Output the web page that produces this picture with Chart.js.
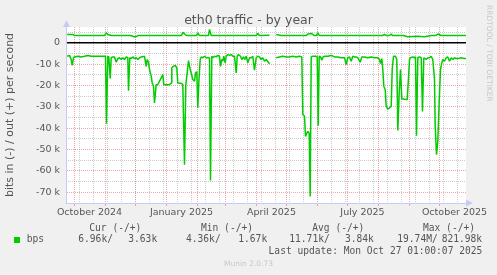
<!DOCTYPE html>
<html>
<head>
<meta charset="utf-8">
<script src="https://cdn.jsdelivr.net/npm/chart.js@4.4.1/dist/chart.umd.min.js"></script>
<style>
  html, body { margin: 0; padding: 0; background: #f0f0f0; }
  #wrap { position: relative; width: 497px; height: 275px; overflow: hidden; }
  canvas { position: absolute; left: 0; top: 0; }
  .t { position: absolute; font-family: "DejaVu Sans Mono", monospace; font-size: 9.6px; line-height: 12px; color: #555; white-space: pre; }
  .r1 { top: 222px; }
  .r2 { top: 233px; }
  .r3 { top: 244.5px; }
  #swatch { position: absolute; left: 14px; top: 236.5px; width: 6px; height: 6px; background: #00cc00; }
  #munin { position: absolute; top: 259px; left: 0; width: 497px; text-align: center; font-family: "DejaVu Sans", sans-serif; font-size: 7.5px; line-height: 10px; color: #c8c8c8; }
  #rrd { position: absolute; left: 484.5px; top: 5px; writing-mode: vertical-rl; font-family: "DejaVu Sans", sans-serif; font-size: 7.5px; line-height: 8px; color: #c8c8c8; white-space: pre; }
</style>
</head>
<body>
<div id="wrap">
  <canvas id="traffic" width="497" height="275"></canvas>
  <div id="rrd">RRDTOOL / TOBI OETIKER</div>
  <div class="t r1" style="left:89.3px">Cur (-/+)</div>
  <div class="t r1" style="left:201px">Min (-/+)</div>
  <div class="t r1" style="left:312.3px">Avg (-/+)</div>
  <div class="t r1" style="left:423px">Max (-/+)</div>
  <div id="swatch"></div>
  <div class="t r2" style="left:26.7px">bps</div>
  <div class="t r2" style="left:78.3px">6.96k/</div>
  <div class="t r2" style="left:128.3px">3.63k</div>
  <div class="t r2" style="left:186px">4.36k/</div>
  <div class="t r2" style="left:238.3px">1.67k</div>
  <div class="t r2" style="left:289.3px">11.71k/</div>
  <div class="t r2" style="left:345px">3.84k</div>
  <div class="t r2" style="left:397.3px">19.74M/</div>
  <div class="t r2" style="left:441.7px">821.98k</div>
  <div class="t r3" style="right:14.7px">Last update: Mon Oct 27 01:00:07 2025</div>
  <div id="munin">Munin 2.0.73</div>
</div>
<script>
// days counted from Sep 22 2024 (left edge of the 400 day window)
const monthStarts = [9, 40, 70, 101, 132, 160, 191, 221, 252, 282, 313, 344, 374];
const fortnights = [14, 28, 42, 56, 70, 84, 98, 112, 126, 140, 154, 168, 182, 196,
  210, 224, 238, 252, 266, 280, 294, 308, 322, 336, 350, 364, 378, 392];
const labelDays = [24, 116, 206, 297, 389];
const labelText = ["October 2024", "January 2025", "April 2025", "July 2025", "October 2025"];
const yMajor = [0, -10000, -20000, -30000, -40000, -50000, -60000, -70000];
const yMinor = [5000, -5000, -15000, -25000, -35000, -45000, -55000, -65000];

// [day, kbit/s] received (drawn below zero)
const inSamples = [
  [1.7, 6.3], [4, 5.9], [5.7, 7.8], [6.7, 10.6], [8, 7.0], [9, 6.6], [12.3, 6.3], [15.7, 6.6],
  [19, 6.3], [22.3, 5.9], [25.7, 6.3], [32.3, 6.3], [39, 6.3], [40, 6.3], [41, 37.9], [42.3, 6.3],
  [43.3, 6.6], [44.7, 16.7], [45.7, 7.0], [47.3, 6.6], [49, 6.6], [50.7, 9.1], [52.3, 7.4], [54, 7.0],
  [55.7, 7.8], [57.3, 7.0], [59, 7.8], [60.7, 6.6], [62.3, 7.0], [63, 22.4], [64.3, 7.0], [65.7, 7.4],
  [67.3, 6.6], [69, 7.4], [70.7, 7.0], [72.3, 7.8], [74, 7.0], [75.7, 6.6], [79, 6.3], [80.7, 11.0],
  [81.7, 7.8], [83, 9.1], [84, 12.5], [85.7, 15.6], [86.7, 18.8], [88, 20.3], [89, 28.2], [90.7, 19.6],
  [92.3, 19.6], [94, 18.0], [95.7, 16.4], [97.3, 14.9], [98.3, 19.6], [100.7, 19.6], [104, 19.6],
  [105.7, 18.8], [106.3, 11.7], [108, 11.0], [109.7, 10.6], [111.3, 11.7], [112.3, 18.8], [116.3, 19.1],
  [117.3, 19.6], [119, 57.1], [120.3, 19.6], [121.7, 14.1], [123, 8.3], [124.7, 12.5], [125.7, 14.1],
  [127.3, 17.2], [129, 18.0], [130, 14.1], [131.3, 13.6], [132.3, 30.5], [133.3, 18.8], [134.7, 7.8],
  [135.7, 6.6], [137.3, 7.0], [139, 6.3], [140.7, 7.0], [142.3, 7.0], [144, 7.0], [145, 64.5],
  [146.3, 6.3], [147.3, 7.0], [149, 6.3], [150.7, 6.6], [152.3, 5.9], [154, 6.3], [155, 11.0],
  [156.3, 7.8], [157.3, 8.6], [158.3, 6.3], [159.7, 9.4], [160.7, 6.3], [162.3, 5.5], [164, 5.9],
  [165.7, 5.5], [167.3, 6.3], [169, 6.3], [170.7, 14.1], [171.7, 6.3], [173, 5.5], [175, 6.3],
  [176.3, 7.8], [178, 6.6], [179.3, 7.8], [180.7, 6.3], [182.3, 9.4], [184, 7.0], [185.7, 7.0],
  [187.3, 6.3], [189, 12.8], [190.7, 7.0], [192.3, 6.3], [194, 6.6], [195.7, 7.8], [197.3, 7.0],
  [199, 8.6], [200.7, 7.8], [204, 9.8], [207, null],
  [210.7, 7.0], [214, 6.6], [217.3, 6.3], [220.7, 6.6], [224, 6.6], [227.3, 6.3], [230.7, 6.6],
  [234, 6.3], [236.3, 6.6], [237.3, 33.6], [239, 34.4], [240, 43.8], [241.3, 42.3], [242.3, 41.5],
  [243.7, 42.3], [244.7, 72.0], [245.7, 6.6], [247.3, 6.3], [250.7, 6.3], [251.7, 6.6], [252.7, 38.8],
  [253.7, 6.3], [255, 6.6], [256.3, 8.1], [257.7, 6.6], [259, 6.3], [262.3, 6.3], [265.7, 5.9],
  [269, 6.6], [272.3, 6.6], [275.7, 7.0], [279, 7.0], [280.7, 10.2], [282.3, 7.0], [284, 6.6],
  [285.7, 8.6], [287.3, 6.3], [289, 6.6], [290.7, 6.6], [292.3, 7.0], [294.7, 9.1], [296.3, 6.6],
  [299, 6.6], [302.3, 7.0], [305.7, 6.6], [309, 7.0], [312.3, 7.0], [314, 7.8], [315, 9.7],
  [316.3, 7.4], [317.3, 12.5], [318.3, 20.3], [319.7, 21.9], [320.7, 29.7], [322.3, 31.0], [324, 30.5],
  [325.7, 29.7], [326.7, 12.5], [328, 6.3], [330, 6.3], [331.3, 7.8], [332.3, 41.0], [333.7, 23.5],
  [335, 12.5], [336.3, 26.3], [338.3, 26.3], [340.7, 26.6], [341.7, 26.6], [343, 16.4], [344, 7.8],
  [345, 7.0], [347.3, 6.6], [349, 7.0], [350, 6.6], [351, 43.5], [352.3, 7.0], [354, 6.6],
  [355.7, 7.0], [357, 32.2], [358.3, 7.0], [360.7, 7.8], [362.3, 7.0], [364, 7.0], [365.7, 6.3],
  [367.3, 7.8], [369, 17.2], [369.7, 39.1], [371, 52.4], [372.3, 46.2], [373.7, 27.4], [375, 12.5],
  [376.3, 9.4], [377.3, 7.8], [379, 8.6], [380.7, 7.0], [382.3, 6.6], [384, 8.6], [385.7, 7.0],
  [387.3, 7.8], [389, 7.0], [390.7, 7.4], [392.3, 7.4], [395.7, 7.0], [399, 7.4], [400.7, 7.4]
];

// [day, kbit/s] sent (drawn above zero)
const outSamples = [
  [1.7, 3.9], [7.3, 3.9], [9, 3.4], [39, 3.4], [40.7, 4.7], [42.3, 3.9], [45.7, 3.4], [65, 3.4],
  [67.3, 3.1], [69.7, 2.7], [72.3, 3.4], [116, 3.4], [117.3, 4.9], [119.7, 3.9], [121, 3.4],
  [131, 3.4], [132.3, 4.7], [134, 3.4], [143, 3.4], [144, 6.3], [145.7, 3.4], [191, 3.4],
  [192.3, 4.4], [194, 3.4], [204, 3.5], [207, null],
  [210.7, 3.9], [215.7, 3.4], [241, 3.4], [242.3, 4.1], [245.7, 4.4], [249, 3.4], [251, 3.4],
  [252.3, 4.7], [254, 3.4], [317, 3.4], [319, 3.9], [321, 3.4], [324, 3.4], [325.7, 4.1],
  [327, 3.4], [338, 3.4], [342.3, 2.8], [352.3, 3.1], [359, 2.8], [365.7, 3.4], [370, 3.4],
  [372.3, 4.1], [375.7, 3.4], [400.7, 3.4]
];

const dayMin = 0.5;
const dayMax = 400.5;

Chart.defaults.font.family = "DejaVu Sans";
Chart.defaults.color = "#555";

const inData = inSamples.map(s => ({ x: s[0], y: s[1] === null ? null : -s[1] * 1000 }));
const outData = outSamples.map(s => ({ x: s[0], y: s[1] === null ? null : s[1] * 1000 }));

const redGrid = "rgba(225, 110, 110, 0.6)";
const grayGrid = "rgba(150, 150, 150, 0.5)";
const axisBlue = "#c6caf6";

const plotDecor = {
  id: "plotDecor",
  beforeDraw(chart) {
    const { ctx, chartArea: a } = chart;
    ctx.save();
    ctx.fillStyle = "#ffffff";
    ctx.fillRect(a.left, a.top, a.right - a.left, a.bottom - a.top);
    ctx.restore();
  },
  afterDraw(chart) {
    const { ctx, chartArea: a } = chart;
    ctx.save();
    ctx.fillStyle = axisBlue;
    ctx.beginPath();
    ctx.moveTo(a.left - 3, a.top);
    ctx.lineTo(a.left + 4, a.top);
    ctx.lineTo(a.left + 0.5, a.top - 7);
    ctx.fill();
    ctx.beginPath();
    ctx.moveTo(a.right, a.bottom - 3.5);
    ctx.lineTo(a.right, a.bottom + 3.5);
    ctx.lineTo(a.right + 7, a.bottom);
    ctx.fill();
    ctx.restore();
  }
};

function gridAxis(position, ticks, color, tickLength) {
  return {
    type: "linear",
    position: position,
    weight: 0,
    min: position === "bottom" ? dayMin : -75000,
    max: position === "bottom" ? dayMax : 7400,
    afterBuildTicks: s => { s.ticks = ticks.map(v => ({ value: v })); },
    afterFit: s => { if (position === "bottom") s.height = 0; else s.width = 0; },
    ticks: { display: false },
    grid: { color: color, lineWidth: 1, drawTicks: tickLength > 0, tickLength: tickLength },
    border: { display: false, dash: [1, 1] }
  };
}

new Chart(document.getElementById("traffic"), {
  type: "line",
  data: {
    datasets: [
      {
        label: "in",
        data: inData,
        borderColor: "#00cc00",
        borderWidth: 1.5,
        borderJoinStyle: "bevel",
        pointRadius: 0,
        spanGaps: false,
        fill: false
      },
      {
        label: "out",
        data: outData,
        borderColor: "#00cc00",
        borderWidth: 1.5,
        borderJoinStyle: "bevel",
        pointRadius: 0,
        spanGaps: false,
        fill: false
      }
    ]
  },
  options: {
    responsive: false,
    animation: false,
    devicePixelRatio: 1,
    layout: { padding: 0 },
    plugins: {
      legend: { display: false },
      tooltip: { enabled: false },
      title: {
        display: true,
        text: "eth0 traffic - by year",
        color: "#555",
        font: { size: 12.5, weight: "normal", lineHeight: 1 },
        padding: { top: 14, bottom: 0.5 }
      }
    },
    scales: {
      x: {
        type: "linear",
        position: "bottom",
        weight: 10,
        min: dayMin,
        max: dayMax,
        afterBuildTicks: s => { s.ticks = labelDays.map(v => ({ value: v })); },
        afterFit: s => { s.height = 72; },
        ticks: {
          autoSkip: false,
          maxRotation: 0,
          minRotation: 0,
          padding: 4,
          color: "#555",
          font: { size: 9.5 },
          callback: v => labelText[labelDays.indexOf(v)]
        },
        grid: { display: false, drawTicks: false },
        border: { display: true, color: axisBlue, width: 1 }
      },
      xMonth: gridAxis("bottom", monthStarts, redGrid, 3),
      xWeek: gridAxis("bottom", fortnights, grayGrid, 0),
      y: {
        type: "linear",
        position: "left",
        weight: 10,
        min: -75000,
        max: 7400,
        afterBuildTicks: s => { s.ticks = yMajor.map(v => ({ value: v })); },
        afterFit: s => { s.width = 66; },
        ticks: {
          padding: 6,
          color: "#555",
          font: { size: 9.5 },
          callback: v => (v === 0 ? "0" : v / 1000 + " k")
        },
        grid: { color: redGrid, drawTicks: false },
        border: { display: true, color: axisBlue, width: 1, dash: [1, 1] },
        title: {
          display: true,
          text: "bits in (-) / out (+) per second",
          color: "#555",
          font: { size: 11 },
          padding: { top: 4, bottom: 0 }
        }
      },
      yMinor: gridAxis("left", yMinor, grayGrid, 0),
      yZero: {
        type: "linear",
        position: "left",
        weight: 0,
        min: -75000,
        max: 7400,
        afterBuildTicks: s => { s.ticks = [{ value: 0 }]; },
        afterFit: s => { s.width = 0; },
        ticks: { display: false },
        grid: { color: "#000000", lineWidth: 1.5, drawTicks: false },
        border: { display: false }
      },
      yRight: {
        type: "linear",
        position: "right",
        afterFit: s => { s.width = 31; },
        ticks: { display: false },
        grid: { display: false, drawTicks: false },
        border: { display: false }
      }
    }
  },
  plugins: [plotDecor]
});
</script>
</body>
</html>
